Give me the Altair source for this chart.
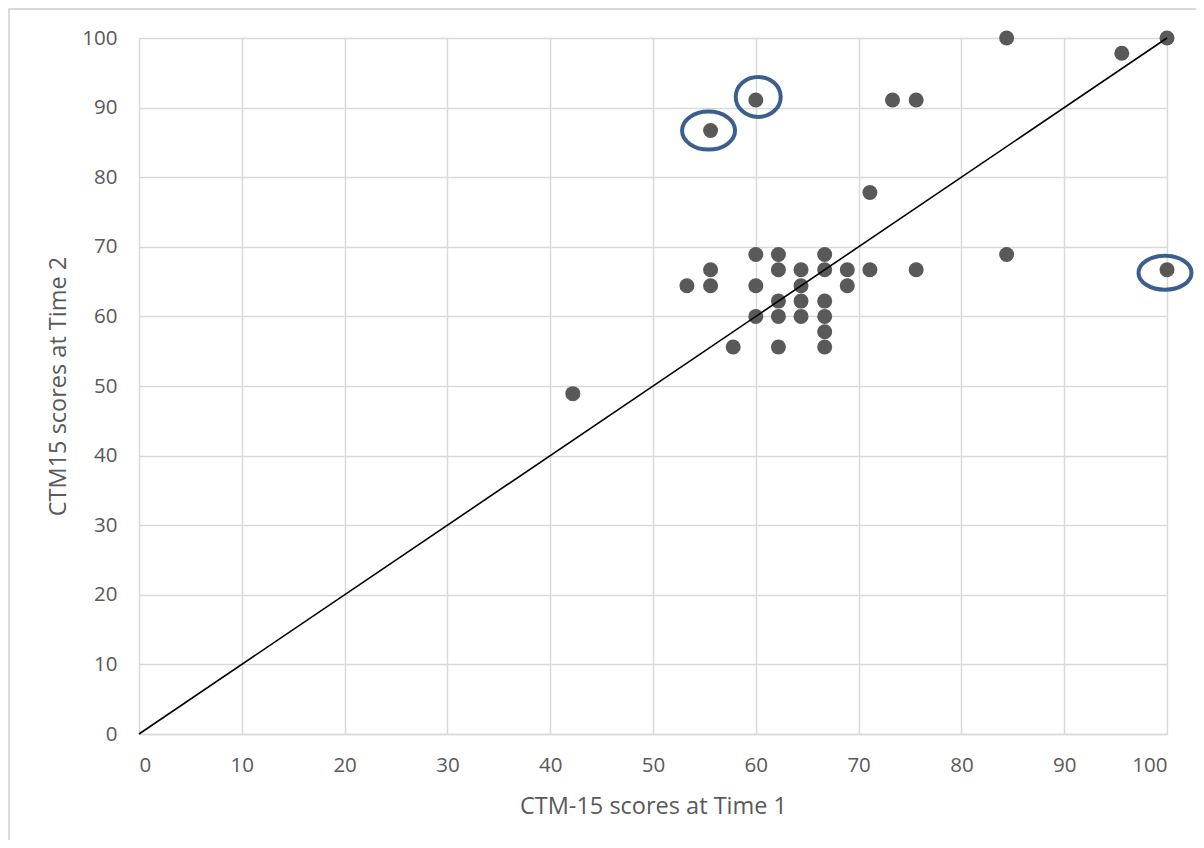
import altair as alt
import pandas as pd

# CTM-15 scores at Time 1 (x) and Time 2 (y)
time1 = [42.2, 53.3, 55.6, 55.6, 55.6, 57.8, 60.0, 60.0, 60.0, 60.0,
         62.2, 62.2, 62.2, 62.2, 62.2, 64.4, 64.4, 64.4, 64.4,
         66.7, 66.7, 66.7, 66.7, 66.7, 66.7, 68.9, 68.9, 71.1, 71.1,
         73.3, 75.6, 75.6, 84.4, 84.4, 95.6, 100.0, 100.0]
time2 = [48.9, 64.4, 66.7, 64.4, 86.7, 55.6, 68.9, 64.4, 60.0, 91.1,
         68.9, 66.7, 62.2, 60.0, 55.6, 66.7, 64.4, 62.2, 60.0,
         68.9, 66.7, 62.2, 60.0, 57.8, 55.6, 66.7, 64.4, 66.7, 77.8,
         91.1, 91.1, 66.7, 100.0, 68.9, 97.8, 100.0, 66.7]

# identity reference line
line_x = [0, 100]
line_y = [0, 100]

# circled (highlighted) points
hl_x = [55.6, 60.0, 100.0]
hl_y = [86.7, 91.1, 66.7]

ticks = list(range(0, 101, 10))

pts = pd.DataFrame({"t1": time1, "t2": time2})
ln = pd.DataFrame({"t1": line_x, "t2": line_y})
hl = pd.DataFrame({"t1": hl_x, "t2": hl_y})

W, H = 1028, 696
FONT = "Open Sans"
GRAY = "#595959"
GRID = "#D9D9D9"

xs = alt.Scale(domain=[0, 100], nice=False, zero=False)
ys = alt.Scale(domain=[0, 100], nice=False, zero=False)

x_enc = alt.X("t1:Q", scale=xs, title="CTM-15 scores at Time 1",
              axis=alt.Axis(values=ticks, grid=True, ticks=False, tickSize=0,
                            domain=True, domainColor=GRID, domainWidth=1.5,
                            labelPadding=21, titleBaseline="alphabetic",
                            titleY=79))
y_enc = alt.Y("t2:Q", scale=ys, title="CTM15 scores at Time 2",
              axis=alt.Axis(values=ticks, grid=True, ticks=False, tickSize=0,
                            domain=False, labelPadding=22,
                            titleBaseline="alphabetic", titleX=-74))

points = alt.Chart(pts).mark_point(
    shape="circle", filled=True, size=225, color=GRAY, opacity=1
).encode(x=x_enc, y=y_enc)

diag = alt.Chart(ln).mark_line(color="#000000", strokeWidth=1.6).encode(
    x=alt.X("t1:Q", scale=xs), y=alt.Y("t2:Q", scale=ys)
)


def ellipse_path(r):
    k = 0.5523
    return (f"M1,0 C1,{k*r:.4f} {k:.4f},{r:.4f} 0,{r:.4f} "
            f"C{-k:.4f},{r:.4f} -1,{k*r:.4f} -1,0 "
            f"C-1,{-k*r:.4f} {-k:.4f},{-r:.4f} 0,{-r:.4f} "
            f"C{k:.4f},{-r:.4f} 1,{-k*r:.4f} 1,0 Z")


ell_specs = [
    (0, 53, 38, -2, 0),
    (1, 45, 40, 2.4, -3),
    (2, 53, 34, -2, 3),
]
ellipses = []
for i, w, h, dx, dy in ell_specs:
    ellipses.append(
        alt.Chart(hl.iloc[[i]]).mark_point(
            shape=ellipse_path(h / w), size=w * w, filled=False,
            stroke="#3A5F8E", strokeWidth=4, opacity=1,
            xOffset=dx, yOffset=dy
        ).encode(x=alt.X("t1:Q", scale=xs), y=alt.Y("t2:Q", scale=ys))
    )

border = alt.Chart(pts).mark_rect(
    fill=None, stroke=GRID, strokeWidth=1.5
).encode(
    x=alt.value(-130.5), x2=alt.value(1200),
    y=alt.value(-29), y2=alt.value(1000)
)

chart = alt.layer(border, points, diag, *ellipses).properties(
    width=W, height=H,
    autosize=alt.AutoSizeParams(type="none"),
    padding={"left": 131, "top": 30, "right": 29, "bottom": 106},
).configure_view(stroke=None).configure_axis(
    gridColor=GRID, gridWidth=1.5,
    labelFont=FONT, labelFontSize=20.5, labelColor=GRAY,
    titleFont=FONT, titleFontSize=23.5, titleColor=GRAY, titleFontWeight="normal",
)

chart.save("out.html", embed_options={"renderer": "svg", "actions": False})
